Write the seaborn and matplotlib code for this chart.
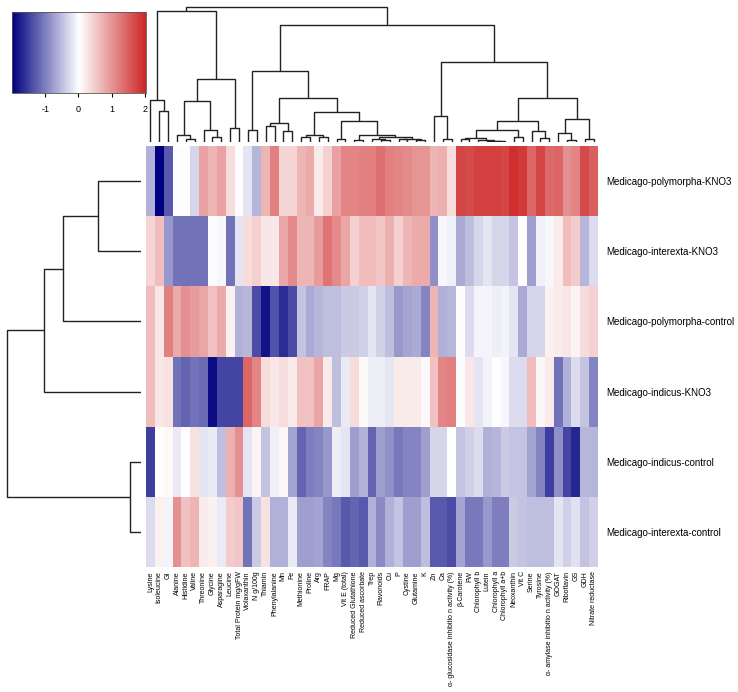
import matplotlib
matplotlib.use("Agg")
import numpy as np
import pandas as pd
import seaborn as sns
import matplotlib.pyplot as plt
from matplotlib.colors import LinearSegmentedColormap

samples = ["Medicago-polymorpha-KNO3", "Medicago-interexta-KNO3", "Medicago-polymorpha-control",
           "Medicago-indicus-KNO3", "Medicago-indicus-control", "Medicago-interexta-control"]

variables = ["Lysine", "Isoleucine", "GI", "Alanine", "Histidine", "Valine", "Threonine", "Glycine",
             "Asparagine", "Leucine", "Total Protein mg/gFW", "Violaxanthin", "N g/100g", "Thiamin",
             "Phenylalanine", "Mn", "Fe", "Methionine", "Proline", "Arg", "FRAP", "Mg", "Vit E (total)",
             "Reduced Glutathione", "Reduced ascorbate", "Trep", "Flavonoids", "Cu", "P", "Cystine",
             "Glutamine", "K", "Zn", "Ca", "α- glucosidase inhibitio n activity (%)", "β-Carotene", "FW",
             "Chlorophyll b", "Lutein", "Chlorophyll a", "Chlorophyll a+b", "Neoxanthin", "Vit C",
             "Serine", "Tyrosine", "α- amylase inhibitio n activity (%)", "GOGAT", "Riboflavin", "GS",
             "GDH", "Nitrate reductase"]

polymorpha_kno3 = [-0.6, -2.0, -1.3, 0.05, 0.05, -0.3, 0.9, 0.7, 0.9, 0.35, 0.05, -0.2, -0.55, 0.7, 1.2, 0.4, 0.4,
                   0.7, 0.8, 0.2, 0.45, 0.9, 1.15, 1.15, 1.2, 1.2, 1.35, 1.2, 1.15, 1.1, 1.0, 1.0, 0.7, 0.75,
                   0.35, 1.75, 1.7, 1.8, 1.8, 1.8, 1.75, 1.95, 1.85, 1.45, 1.75, 1.4, 1.45, 1.05, 1.15, 1.7, 1.5]
interexta_kno3 = [0.4, 0.65, -0.8, -1.1, -1.1, -1.1, -1.1, 0.0, -0.05, -1.1, -0.2, 0.35, 0.45, 0.25, 0.25, 0.85, 1.1,
                  0.7, 0.7, 0.95, 1.3, 1.1, 0.85, 0.45, 0.65, 0.65, 0.55, 0.75, 0.45, 0.7, 0.8, 0.8, -0.85, -0.05,
                  -0.1, -0.65, -0.5, -0.3, -0.2, -0.3, -0.3, -0.45, 0.05, -0.75, -0.1, -0.05, 0.2, 0.65, 0.5, -0.55, -0.25]
polymorpha_control = [0.65, 0.25, 1.2, 0.8, 1.05, 0.95, 0.85, 0.6, 0.8, 0.15, -0.6, -0.55, -1.4, -1.85, -1.35, -1.65, -1.4,
                      -0.45, -0.65, -0.55, -0.5, -0.5, -0.4, -0.4, -0.35, -0.2, -0.35, -0.5, -0.8, -0.7, -0.65, -0.95, 0.7, -0.6,
                      -0.55, 0.0, -0.25, -0.07, -0.07, -0.12, -0.08, -0.2, -0.65, -0.3, -0.3, 0.15, 0.2, 0.25, 0.12, 0.35, 0.45]
indicus_kno3 = [0.65, 0.25, 0.3, -1.1, -1.2, -1.1, -1.15, -1.9, -1.45, -1.45, -1.45, 1.45, 1.15, 0.35, 0.25, 0.35, 0.2,
                0.6, 0.6, 0.85, 0.2, -0.5, -0.15, 0.35, 0.08, -0.12, -0.12, -0.17, 0.2, 0.2, 0.2, 0.08, 0.6, 1.15,
                1.2, 0.0, 0.25, -0.2, -0.08, 0.05, -0.05, -0.25, -0.25, 0.65, 0.1, 0.2, -1.1, -0.6, -0.25, -0.45, -0.95]
indicus_control = [-1.5, 0.02, 0.08, -0.15, 0.05, 0.3, -0.2, -0.15, -0.5, 0.75, 1.05, -0.2, 0.12, -0.45, -0.1, 0.1, -0.7,
                   -1.2, -1.0, -0.95, -0.8, -0.12, -0.2, -0.75, -0.6, -1.2, -0.75, -0.85, -1.05, -0.95, -0.95, -0.75, -0.3, -0.3,
                   0.02, -0.45, -0.35, -0.25, -0.6, -0.55, -0.4, -0.45, -0.45, -0.7, -0.95, -1.5, -0.85, -1.45, -1.7, -0.55, -0.55]
interexta_control = [-0.25, 0.15, -0.07, 1.05, 0.6, 0.7, 0.2, 0.15, -0.15, 0.5, 0.55, -1.1, -0.4, 0.3, -0.6, -0.6, -0.15,
                     -0.75, -0.75, -0.7, -0.95, -1.05, -1.3, -1.2, -1.3, -0.6, -0.9, -0.6, -0.45, -0.75, -0.75, -0.5, -1.3, -1.3,
                     -1.4, -0.7, -1.05, -1.05, -0.8, -1.0, -1.0, -0.4, -0.45, -0.5, -0.5, -0.5, -0.2, -0.35, -0.22, -0.45, -0.35]

# dendrogram trees: (left, right, merge height); ints are leaf positions
row_tree = ((((0, 1, 43.3), 2, 78.0), 3, 97.0), (4, 5, 11.0), 134.7)

col_tree = (
    ((0, (1, 2, 30.7), 42.3),
     (((3, (4, 5, 3.3), 7.3), (6, (7, 8, 4.7), 11.7), 40.7), (9, 10, 14.3), 63.3),
     131.0),
    ((((11, 12, 12.3),
       (((13, 14, 15.7), (15, 16, 11.3), 19.3),
        ((((17, 18, 5.0), (19, 20, 5.0), 6.7),
          ((21, 22, 3.3),
           ((23, 24, 2.3),
            ((25, (26, 27, 1.7), 3.5), ((28, 29, 3.0), (30, 31, 2.3), 3.3), 5.5),
            7.0),
           21.0),
          29.7)),
        44.0),
       71.3)),
     ((32, (33, 34, 3.3), 26.3),
      (((((35, 36, 3.0), (37, (38, (39, 40, 0.7), 1.0), 2.0), 4.3), (41, 42, 5.0), 11.7),
         (43, (44, 45, 4.3), 10.7), 20.7),
        ((46, (47, 48, 2.3), 9.3), (49, 50, 3.3), 23.0), 44.3),
      80.0),
     117.3),
    135.0)


def build_linkage(tree, n):
    rows = []
    sizes = {}

    def visit(node):
        if isinstance(node, int):
            sizes[node] = 1
            return node
        a = visit(node[0])
        b = visit(node[1])
        cid = n + len(rows)
        sizes[cid] = sizes[a] + sizes[b]
        rows.append([a, b, node[2], sizes[cid]])
        return cid

    visit(tree)
    return np.array(rows, dtype=float)


data = pd.DataFrame([polymorpha_kno3, interexta_kno3, polymorpha_control,
                     indicus_kno3, indicus_control, interexta_control],
                    index=samples, columns=variables)

row_link = build_linkage(row_tree, len(samples))
col_link = build_linkage(col_tree, len(variables))

plt.rcParams["font.family"] = ["Liberation Sans", "DejaVu Sans"]
plt.rcParams["axes.unicode_minus"] = False

cmap = LinearSegmentedColormap.from_list("navy_fire", ["#000080", "#FFFFFF", "#CD2626"])

W, H = 738, 692
g = sns.clustermap(data, row_linkage=row_link, col_linkage=col_link, cmap=cmap,
                   vmin=-2, vmax=2.04, xticklabels=True, yticklabels=True,
                   figsize=(W / 100, H / 100),
                   cbar_kws={"orientation": "horizontal", "ticks": [-1, 0, 1, 2]},
                   tree_kws={"linewidths": 1.0, "colors": "#222222"},
                   cbar_pos=(12 / W, 1 - 93 / H, 134 / W, 81 / H))


def fx(px):
    return px / W


def fy(py):
    return 1 - py / H


hm_l, hm_r, hm_t, hm_b = 146, 598, 146, 567
g.ax_heatmap.set_position([fx(hm_l), fy(hm_b), fx(hm_r - hm_l), (hm_b - hm_t) / H])
g.ax_row_dendrogram.set_position([fx(0), fy(hm_b), fx(141), (hm_b - hm_t) / H])
g.ax_col_dendrogram.set_position([fx(hm_l), fy(142), fx(hm_r - hm_l), 141.5 / H])
g.ax_cbar.set_position([fx(12), fy(93), fx(134), 81 / H])

ax = g.ax_heatmap
ax.set_xlabel("")
ax.set_ylabel("")
ax.set_xticklabels(variables, rotation=90, fontsize=5.0)
ax.set_yticklabels(samples, rotation=0, fontsize=7.0)
ax.tick_params(axis="x", length=0, pad=3)
ax.tick_params(axis="y", length=0, pad=6)

g.ax_cbar.tick_params(labelsize=6.5, length=3, width=0.8, pad=6)
g.ax_cbar.xaxis.set_ticks_position("bottom")
for s in g.ax_cbar.spines.values():
    s.set_linewidth(0.6)
    s.set_edgecolor("#555555")

g.figure.savefig("out.png", dpi=100)
